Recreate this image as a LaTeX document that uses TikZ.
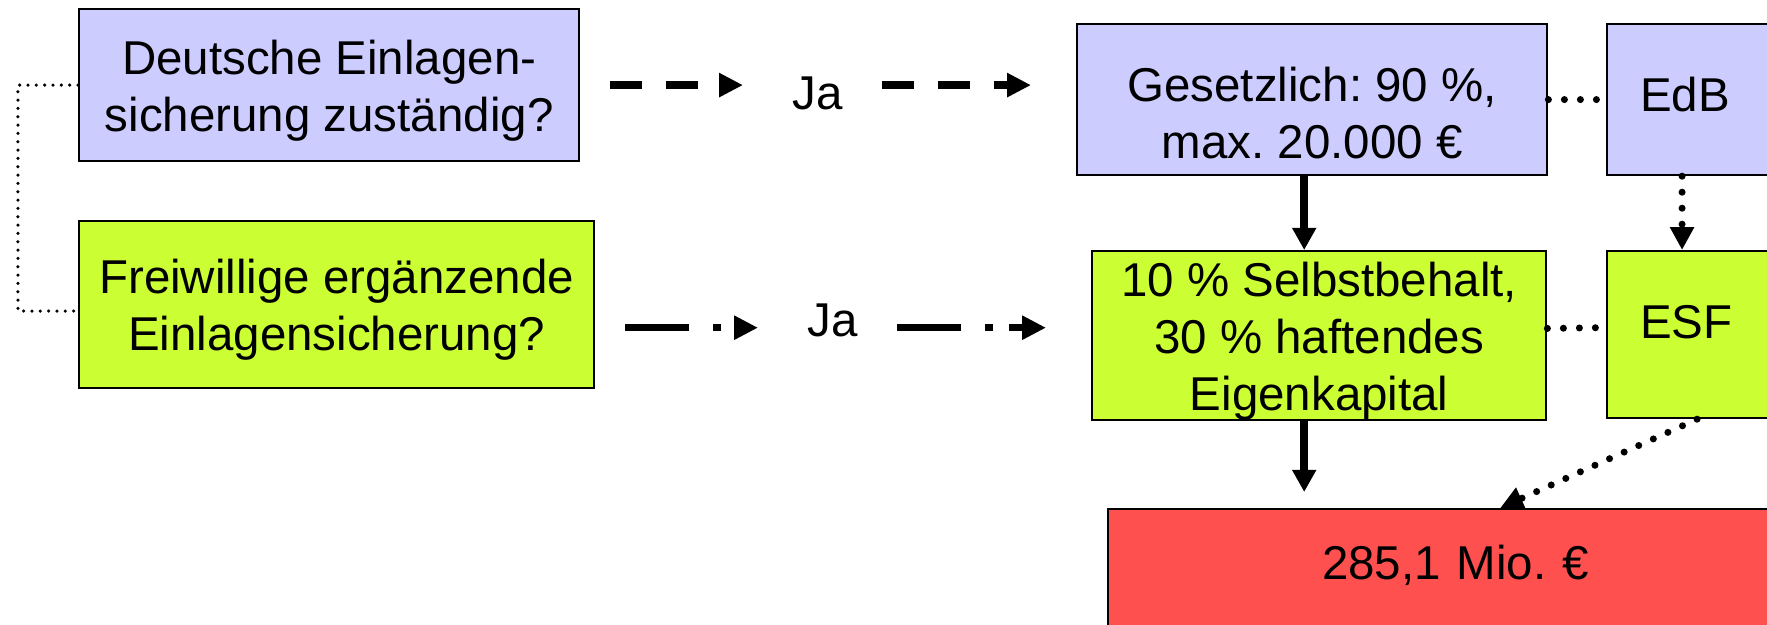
\documentclass[tikz,border=0pt]{standalone}
\usepackage{fontspec}
\setmainfont{Liberation Sans}
\usetikzlibrary{arrows.meta,positioning}
\definecolor{EdbLilac}{RGB}{204,204,255}
\definecolor{EsfGreen}{RGB}{204,255,51}
\definecolor{LossRed}{RGB}{255,80,80}
\newcommand{\boxstrut}[1]{\rule{0pt}{#1}}
\frenchspacing

\begin{document}
\begin{tikzpicture}[x=0.01cm,y=-0.01cm,>=Latex,
    font=\fontsize{13.5pt}{16.2pt}\selectfont,
    box/.style={draw,line width=0.6pt,inner sep=0pt,anchor=north west,align=center},
    sidebox/.style={box,align=left,text width=3cm,inner xsep=0.33cm,text height=9.85pt},
    janode/.style={inner sep=0pt,anchor=base west},
    dasharrow/.style={line width=2.1pt,dash pattern=on 9.1pt off 6.83pt,
      -{Triangle[length=6.8pt,width=6.5pt]}},
    dashdotarrow/.style={line width=2.1pt,dash pattern=on 18.2pt off 6.83pt on 2.28pt off 4.55pt,
      -{Triangle[length=6.8pt,width=6.5pt]}},
    solidarrow/.style={line width=2.3pt,-{Triangle[length=6.3pt,width=6.5pt]}},
    bigdots/.style={line width=2pt,line cap=round,dash pattern=on 0pt off 4.55pt},
    thindots/.style={line width=1pt,line cap=round,dash pattern=on 0pt off 2.37pt}]
  \useasboundingbox (0,0) rectangle (1767,625);
  \clip (0,0) rectangle (1767,625);
  \node[box,fill=EdbLilac,minimum width=5cm,minimum height=1.52cm]
    (dt) at (78,8) {\boxstrut{12.8pt}Deutsche Einlagen-\\sicherung zuständig?};
  \node[box,fill=EsfGreen,minimum width=5.15cm,minimum height=1.67cm]
    (fw) at (78,220) {\boxstrut{12.8pt}Freiwillige ergänzende\\Einlagensicherung?};
  \node[box,fill=EdbLilac,minimum width=4.7cm,minimum height=1.51cm]
    (gs) at (1076,23) {\boxstrut{17.6pt}Gesetzlich: 90 \%,\\max. 20.000 €};
  \node[box,fill=EsfGreen,minimum width=4.54cm,minimum height=1.67cm]
    (sb) at (1091,250) {\boxstrut{12.8pt}10 \% Selbstbehalt,\\30 \% haftendes\\Eigenkapital};
  \node[sidebox,fill=EdbLilac,minimum height=1.51cm,text depth=3.35pt]
    (edb) at (1606,23) {EdB};
  \node[sidebox,fill=EsfGreen,minimum height=1.67cm,text depth=7.85pt]
    (esf) at (1606,250) {ESF};
  \node[box,fill=LossRed,align=left,text width=5cm,inner xsep=2.14cm,inner ysep=0.354cm,
    text height=9.85pt,text depth=3cm]
    (loss) at (1107,508) {285,1 Mio. €};
  \node[janode] (ja1) at (792,110) {Ja};
  \node[janode] (ja2) at (807,337) {Ja};

  \draw[thindots] (dt.west) -- ([xshift=-0.6cm]dt.west) |- ([yshift=-0.065cm]fw.west);
  \draw[dasharrow,shorten <=0.3cm,shorten >=0.49cm] (dt.east) -- (ja1.west |- dt.east);
  \draw[dasharrow,shorten <=0.38cm,shorten >=0.45cm] (ja1.east |- dt.east) -- (gs.west |- dt.east);
  \draw[dashdotarrow,shorten <=0.3cm,shorten >=0.49cm] (fw.east |- ja2.mid west) -- (ja2.mid west);
  \draw[dashdotarrow,shorten <=0.38cm,shorten >=0.45cm] (ja2.mid east) -- (sb.west |- ja2.mid east);
  \draw[solidarrow] ([xshift=-0.08cm]gs.south) -- ([xshift=-0.08cm]gs.south |- sb.north);
  \draw[solidarrow,shorten >=0.16cm] ([xshift=-0.08cm]gs.south |- sb.south)
    -- ([xshift=-0.08cm]gs.south |- loss.north);
  \draw[bigdots] (gs.east) -- (edb.west);
  \draw[bigdots] ([yshift=0.07cm]sb.east) -- ([yshift=0.07cm]esf.west);
  \draw[bigdots,-{Triangle[length=6.5pt,width=6.5pt]}]
    ([xshift=0.76cm]edb.south west) -- ([xshift=0.76cm]esf.north west);
  \draw[bigdots,-{Triangle[length=6.5pt,width=6.5pt]}]
    ([xshift=0.91cm]esf.south west) -- ([xshift=3.93cm]loss.north west);
\end{tikzpicture}
\end{document}
